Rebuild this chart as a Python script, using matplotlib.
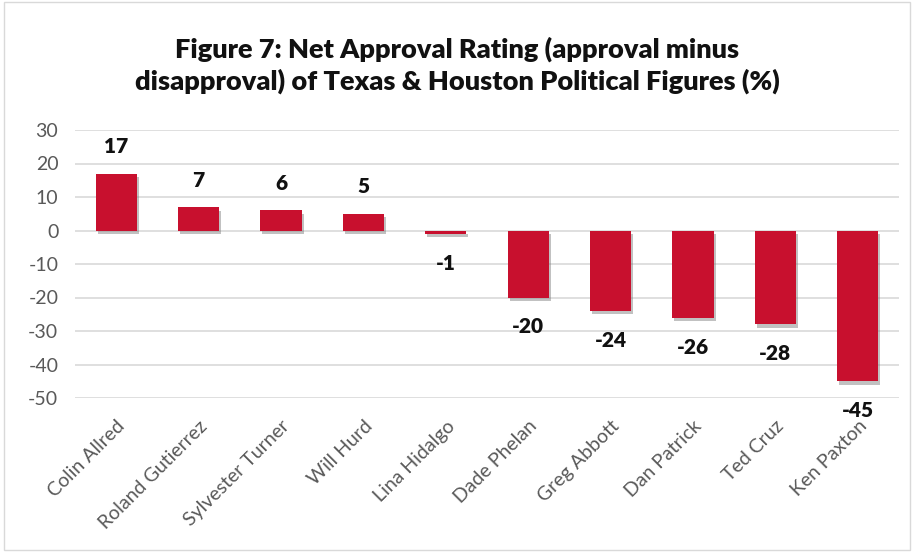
import matplotlib.pyplot as plt
import matplotlib.patheffects as pe
from matplotlib.patches import Rectangle

# Net approval values
names = ['Colin Allred', 'Roland Gutierrez', 'Sylvester Turner', 'Will Hurd',
         'Lina Hidalgo', 'Dade Phelan', 'Greg Abbott', 'Dan Patrick',
         'Ted Cruz', 'Ken Paxton']
net_approval = [17, 7, 6, 5, -1, -20, -24, -26, -28, -45]
y_ticks = [30, 20, 10, 0, -10, -20, -30, -40, -50]

plt.rcParams['font.family'] = ['Lato', 'DejaVu Sans']
plt.rcParams['axes.unicode_minus'] = False

fig = plt.figure(figsize=(9.14, 5.52), dpi=100)
ax = fig.add_axes([75 / 914, 1 - 398 / 552, 824 / 914, 268 / 552])

x = range(len(names))
shadow = [pe.SimplePatchShadow(offset=(1.5, -2.5), shadow_rgbFace='#777777', alpha=0.45), pe.Normal()]
bars = ax.bar(x, net_approval, width=0.5, color='#C8102E', zorder=3)
for b in bars:
    b.set_path_effects(shadow)

# value labels above positive bars, below negative ones
for i, v in enumerate(net_approval):
    off = 8 if v >= 0 else -8.8
    ax.text(i, v + off, str(v), ha='center', va='center', fontsize=15,
            fontweight='heavy', color='#111111')

ax.set_xlim(-0.5, len(names) - 0.5)
ax.set_ylim(-50, 30)
ax.set_yticks(y_ticks)
ax.grid(axis='y', color='#D9D9D9', linewidth=1.2, zorder=0)
for s in ax.spines.values():
    s.set_visible(False)
ax.tick_params(axis='both', length=0, labelsize=14, labelcolor='#595959')
ax.tick_params(axis='y', pad=12)
ax.tick_params(axis='x', pad=14)
ax.set_xticks(list(x))
ax.set_xticklabels(names, rotation=45, ha='right', rotation_mode='anchor')

fig.text(0.5, 1 - 65 / 552, 'Figure 7: Net Approval Rating (approval minus\n'
         'disapproval) of Texas & Houston Political Figures (%)',
         ha='center', va='center', fontsize=19.5, fontweight='heavy',
         color='#111111', linespacing=1.3)

fig.patches.append(Rectangle((0.004, 0.004), 0.992, 0.992, transform=fig.transFigure,
                             fill=False, edgecolor='#D9D9D9', linewidth=1))

fig.savefig('out.png', dpi=100)
